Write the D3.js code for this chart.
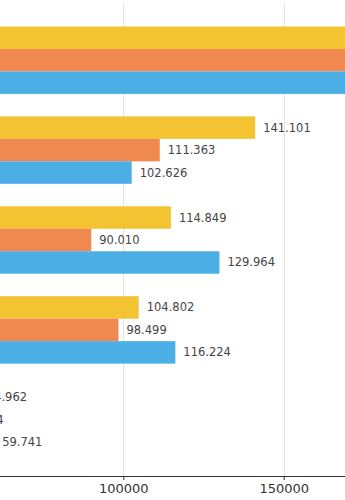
<!DOCTYPE html>
<html>
<head>
<meta charset="utf-8">
<script src="https://cdn.jsdelivr.net/npm/d3@7"></script>
<style>
  html, body { margin: 0; padding: 0; background: #fff; }
  svg { display: block; overflow: hidden; }
</style>
</head>
<body>
<svg id="chart" width="345" height="500"></svg>
<script>
// ---- data ----
const categories = ["Category 1", "Category 2", "Category 3", "Category 4", "Category 5"];
const seriesNames = ["Series A", "Series B", "Series C"];
const seriesA = [195000, 141101, 114849, 104802, 54962];
const seriesB = [190000, 111363, 90010, 98499, 47634];
const seriesC = [185000, 102626, 129964, 116224, 59741];
const tickValues = [0, 50000, 100000, 150000, 200000];
const colors = ["#F3C332", "#F0894F", "#4BAFE6"];

const seriesValues = [seriesA, seriesB, seriesC];
const rows = categories.map((c, i) => ({
  category: c,
  values: seriesNames.map((s, j) => ({ series: s, value: seriesValues[j][i] }))
}));

const svg = d3.select("#chart");
const W = 345, H = 500;
const axisY = 476;

// x scale: the visible window shows part of a wider chart
const x = d3.scaleLinear().domain([0, 200000]).range([-197.5, 444.1]);
const y = d3.scaleBand().domain(categories).range([4, axisY]).paddingInner(0.25).paddingOuter(0.25);
const ySub = d3.scaleBand().domain(seriesNames).range([0, y.bandwidth()]).padding(0);
const color = d3.scaleOrdinal().domain(seriesNames).range(colors);

const fmt = v => d3.format(",")(v).replace(/,/g, ".");

// gridlines
svg.append("g")
  .selectAll("line")
  .data(tickValues.filter(d => x(d) >= 0 && x(d) <= W))
  .join("line")
  .attr("x1", d => Math.round(x(d)) + 0.5)
  .attr("x2", d => Math.round(x(d)) + 0.5)
  .attr("y1", 3)
  .attr("y2", axisY)
  .attr("stroke", "#e2e2e2")
  .attr("stroke-width", 1);

// bars
const groups = svg.append("g")
  .selectAll("g")
  .data(rows)
  .join("g")
  .attr("transform", d => `translate(0,${y(d.category)})`);

groups.selectAll("rect")
  .data(d => d.values)
  .join("rect")
  .attr("x", x(0))
  .attr("y", d => ySub(d.series))
  .attr("width", d => x(d.value) - x(0))
  .attr("height", ySub.bandwidth())
  .attr("fill", d => color(d.series));

// value labels (those lying wholly beyond the right edge of the window are not drawn)
groups.selectAll("text")
  .data(d => d.values.filter(v => x(v.value) + 8 < W))
  .join("text")
  .attr("x", d => x(d.value) + 8)
  .attr("y", d => ySub(d.series) + ySub.bandwidth() / 2)
  .attr("dy", "0.35em")
  .attr("font-family", "DejaVu Sans")
  .attr("font-size", 11.5)
  .attr("fill", "#444")
  .text(d => fmt(d.value));

// x axis
const xAxis = d3.axisBottom(x)
  .tickValues(tickValues.filter(d => x(d) >= 0 && x(d) <= W))
  .tickSize(4)
  .tickPadding(4)
  .tickFormat(d3.format("d"));

const gx = svg.append("g")
  .attr("transform", `translate(0,${axisY})`)
  .call(xAxis);
gx.select(".domain").attr("stroke", "#333").attr("d", `M0,0.5H${W}`);
gx.selectAll(".tick line").attr("stroke", "#333");
gx.selectAll(".tick text")
  .attr("font-family", "DejaVu Sans")
  .attr("font-size", 13)
  .attr("fill", "#333");
</script>
</body>
</html>
